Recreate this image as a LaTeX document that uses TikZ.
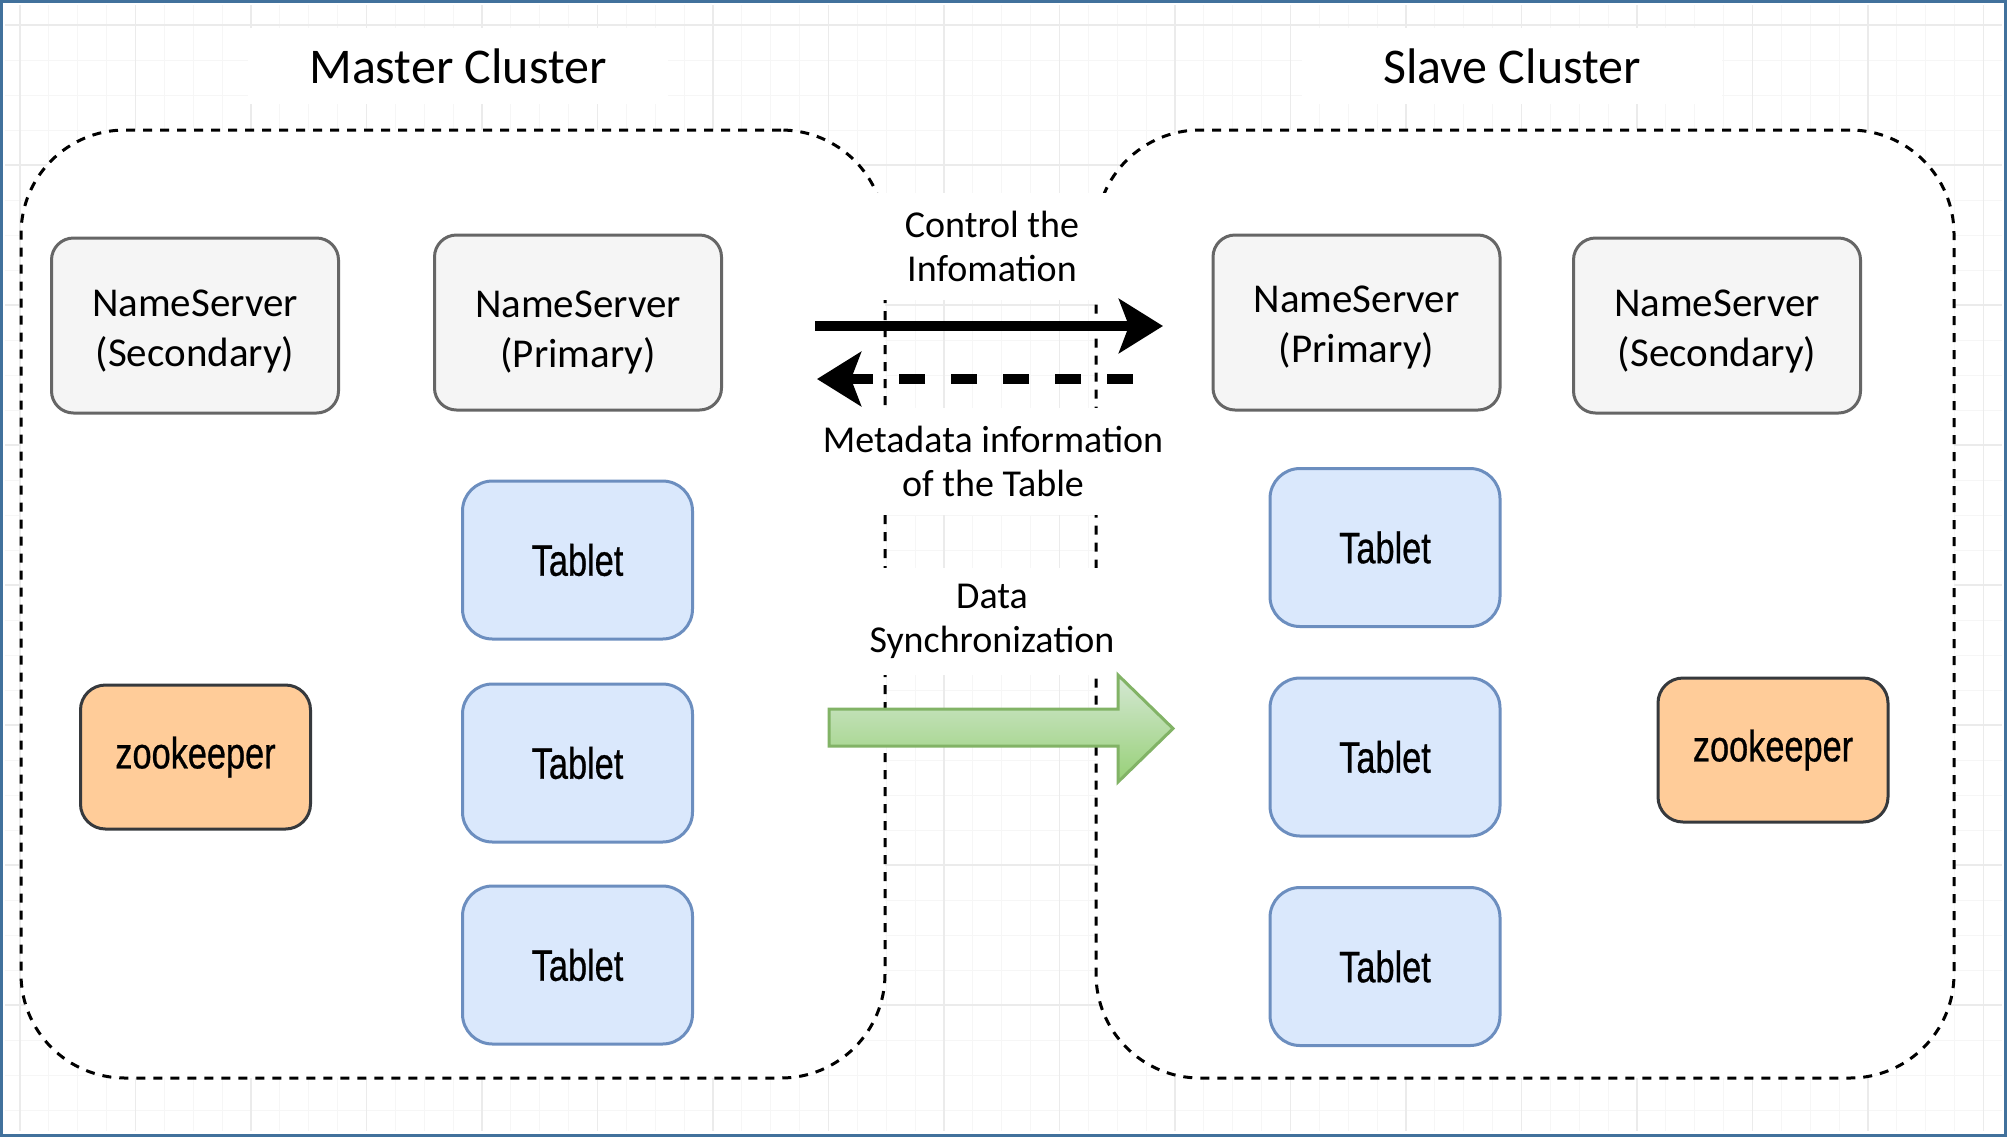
\documentclass[tikz,border=0pt]{standalone}
\usepackage{fontspec}
\setmainfont{Carlito}
\newfontfamily\narrowsans[FakeStretch=0.78,FakeBold=0.6]{Liberation Sans}
\usetikzlibrary{arrows.meta}
\definecolor{framecol}{HTML}{41719C}
\definecolor{gridmaj}{HTML}{EBEBEB}
\definecolor{gridmin}{HTML}{F6F6F6}
\definecolor{nsfill}{HTML}{F5F5F5}
\definecolor{nsline}{HTML}{666666}
\definecolor{tabfill}{HTML}{DAE8FC}
\definecolor{tabline}{HTML}{6C8EBF}
\definecolor{zkfill}{HTML}{FFCC99}
\definecolor{zkline}{HTML}{36393D}
\definecolor{synctop}{HTML}{D5E8D4}
\definecolor{syncbot}{HTML}{97D077}
\definecolor{syncline}{HTML}{82B366}
\tikzset{
  gridmajor/.style={draw=gridmaj, line width=0.6pt},
  gridminor/.style={draw=gridmin, line width=0.5pt},
  cluster/.style={draw, fill=white, dashed, dash pattern=on 4.5pt off 4pt, line width=1.5pt, rounded corners=52pt},
  title/.style={fill=white, minimum width=210pt, minimum height=38pt, font=\fontsize{25}{30}\selectfont},
  lbl/.style={fill=white, align=center, minimum width=130pt, minimum height=53.5pt, inner sep=2pt, font=\fontsize{19}{22}\selectfont},
  nstext/.style={align=center, font=\fontsize{20.5}{25}\selectfont},
  nsbox/.style 2 args={draw=nsline, fill=nsfill, line width=1.5pt, rounded corners=11pt, minimum width=143.5pt, minimum height=87.5pt, label={[nstext, yshift=#2]center:#1}},
  tabletbox/.style={draw=tabline, fill=tabfill, line width=1.5pt, rounded corners=15pt, minimum width=115pt, minimum height=79pt, font=\narrowsans\fontsize{22}{26}\selectfont},
  zkbox/.style={draw=zkline, fill=zkfill, line width=1.5pt, rounded corners=12.5pt, minimum width=115pt, minimum height=72pt, font=\narrowsans\fontsize{22}{26}\selectfont},
  ctrlarrow/.style={line width=5pt, -{Stealth[length=22pt,width=27pt,inset=5pt]}},
  metaarrow/.style={line width=5pt, dash pattern=on 13pt off 13pt, -{Stealth[length=22pt,width=27pt,inset=5pt]}},
  syncarrow/.style={draw=syncline, line width=1.5pt, top color=synctop, bottom color=syncbot}
}
\begin{document}
\begin{tikzpicture}[x=0.5pt,y=-0.5pt]
  \useasboundingbox (0,0) rectangle (2007,1137);
  \fill[white] (0,0) rectangle (2007,1137);
  % faint grid of the canvas
  \foreach \k in {0,...,68} \draw[gridminor] ({20+28.875*\k},5) -- ({20+28.875*\k},1131);
  \foreach \k in {0,...,31} \draw[gridminor] (5,{25+35*\k}) -- (2002,{25+35*\k});
  \foreach \k in {0,...,17} \draw[gridmajor] ({20+115.5*\k},5) -- ({20+115.5*\k},1131);
  \foreach \k in {0,...,7} \draw[gridmajor] (5,{25+140*\k}) -- (2002,{25+140*\k});
  % cluster titles
  \node[title] (mtitle) at (458,66) {Master Cluster};
  \node[title] (stitle) at (1512,66) {Slave Cluster};
  % clusters
  \node[cluster, minimum width=432pt, minimum height=474pt] (master) at (453,604) {};
  \node[cluster, minimum width=429pt, minimum height=474pt] (slave) at (1525,604) {};
  % labels between the clusters
  \node[lbl] (ctrl) at (992,246.5) {Control the\\Infomation};
  \node[lbl] (meta) at (993,461) {Metadata information\\of the Table};
  \node[lbl] (sync) at (992,621) {Data\\Synchronization};
  % master cluster
  \node[nsbox={NameServer\\(Secondary)}{-3pt}] (mns2) at (195,325.5) {};
  \node[nsbox={NameServer\\(Primary)}{-5pt}] (mns1) at (578,322.5) {};
  \node[tabletbox] (mt1) at (577.5,560) {Tablet};
  \node[tabletbox] (mt2) at (577.5,763) {Tablet};
  \node[tabletbox] (mt3) at (577.5,965) {Tablet};
  \node[zkbox] (mzk) at (195.5,757) {zookeeper};
  % slave cluster
  \node[nsbox={NameServer\\(Primary)}{-2.5pt}] (sns1) at (1356.5,322.5) {};
  \node[nsbox={NameServer\\(Secondary)}{-3pt}] (sns2) at (1717,325.5) {};
  \node[tabletbox] (st1) at (1385,547.5) {Tablet};
  \node[tabletbox] (st2) at (1385,757) {Tablet};
  \node[tabletbox] (st3) at (1385,966.5) {Tablet};
  \node[zkbox] (szk) at (1773,750) {zookeeper};
  % arrows
  \coordinate (ctrlA) at (815,326);
  \coordinate (ctrlB) at (1163,326);
  \coordinate (metaA) at (1133,379);
  \coordinate (metaB) at (817,379);
  \draw[ctrlarrow] (ctrlA) -- (ctrlB);
  \draw[metaarrow] (metaA) -- (metaB);
  \draw[syncarrow] (829,709) -- (1118,709) -- (1118,675) -- (1173,728.5) -- (1118,782) -- (1118,746) -- (829,746) -- cycle;
  % frame
  \draw[framecol, line width=1.5pt] (1.5,1.5) rectangle (2005.5,1135.5);
\end{tikzpicture}
\end{document}
